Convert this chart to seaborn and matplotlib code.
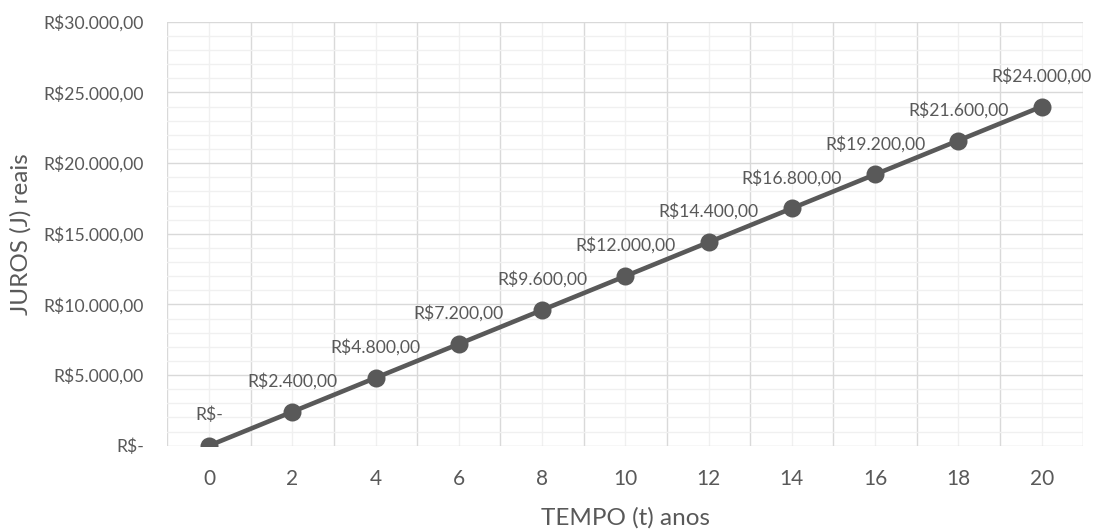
import numpy as np
import pandas as pd
import matplotlib
matplotlib.use("Agg")
import matplotlib.pyplot as plt
from matplotlib.ticker import FixedLocator, MultipleLocator, FuncFormatter
import seaborn as sns

# Simple interest over time: years and accumulated interest (R$)
tempo = [0, 2, 4, 6, 8, 10, 12, 14, 16, 18, 20]
juros = [0, 2400, 4800, 7200, 9600, 12000, 14400, 16800, 19200, 21600, 24000]

df = pd.DataFrame({"tempo": tempo, "juros": juros})

sns.set_theme(style="white")
plt.rcParams["font.family"] = ["Lato", "DejaVu Sans"]

TXT = "#595959"
LINE = "#595959"


def brl(v, pos=None):
    if v == 0:
        return "R$-"
    s = f"{v:,.2f}"
    s = s.replace(",", "X").replace(".", ",").replace("X", ".")
    return "R$" + s


fig = plt.figure(figsize=(10.99, 5.32), dpi=100)
ax = fig.add_axes([0.1523, 0.1622, 0.8334, 0.7968])

sns.pointplot(
    data=df, x="tempo", y="juros", color=LINE, errorbar=None,
    markers="o", linestyles="-", linewidth=3.3, markersize=10.5, ax=ax,
)

ax.set_xlim(-0.5, len(tempo) - 0.5)
ax.set_ylim(0, 30000)

# Gridlines: category boundaries darker, category centers lighter
ax.xaxis.set_minor_locator(FixedLocator(np.arange(-0.5, len(tempo), 1.0)))
ax.yaxis.set_major_locator(MultipleLocator(5000))
ax.yaxis.set_minor_locator(MultipleLocator(1000))
ax.grid(which="minor", axis="x", color="#d9d9d9", linewidth=1.0)
ax.grid(which="major", axis="x", color="#f0f0f0", linewidth=1.0)
ax.grid(which="major", axis="y", color="#d9d9d9", linewidth=1.0)
ax.grid(which="minor", axis="y", color="#f0f0f0", linewidth=1.0)
ax.set_axisbelow(True)
for sp in ax.spines.values():
    sp.set_visible(False)

ax.yaxis.set_major_formatter(FuncFormatter(brl))
ax.tick_params(axis="both", which="both", length=0)
ax.tick_params(axis="y", labelsize=12.7, labelcolor=TXT, pad=17)
ax.tick_params(axis="x", labelsize=15, labelcolor=TXT, pad=17)

ax.set_xlabel("TEMPO (t) anos", fontsize=17.5, color=TXT, labelpad=13)
ax.set_ylabel("JUROS (J) reais", fontsize=17.5, color=TXT)
ax.yaxis.label.set_verticalalignment("center")
ax.yaxis.set_label_coords(-0.1605, 0.5)

# Value labels above each point
for i, v in enumerate(juros):
    ax.annotate(brl(v), xy=(i, v), xytext=(0, 22), textcoords="offset points",
                ha="center", va="center", fontsize=12.6, color=TXT)

fig.savefig("out.png", dpi=100)
